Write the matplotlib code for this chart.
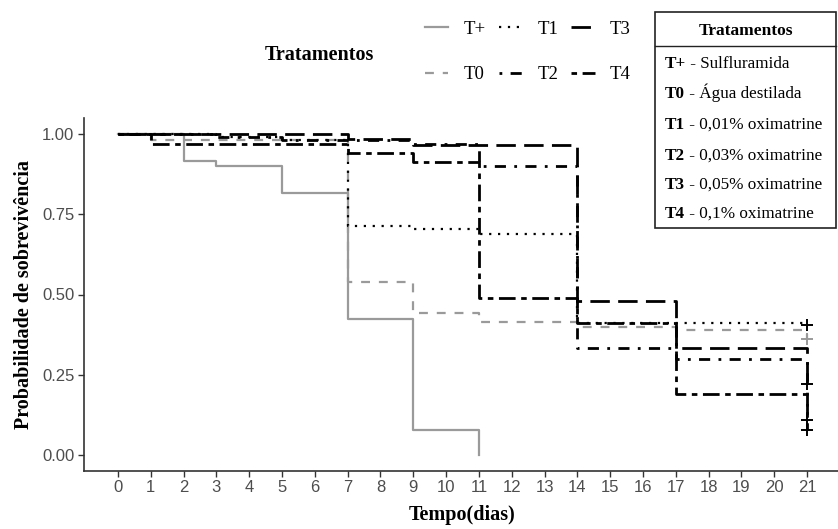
import numpy as np
import matplotlib
matplotlib.use("Agg")
import matplotlib.pyplot as plt
from matplotlib.patches import Rectangle
from matplotlib.lines import Line2D

# -------------------
# Data
# -------------------
groups = ["T+", "T0", "T1", "T2", "T3", "T4"]

t_pos = [0, 2, 3, 5, 7, 9, 11]
s_pos = [1.0, 0.915, 0.90, 0.817, 0.425, 0.078, 0.0]

t_t0 = [0, 1, 7, 9, 11, 14, 17, 21]
s_t0 = [1.0, 0.98, 0.54, 0.443, 0.415, 0.40, 0.39, 0.36]

t_t1 = [0, 3, 5, 7, 9, 11, 14, 21]
s_t1 = [1.0, 0.99, 0.98, 0.713, 0.705, 0.69, 0.41, 0.405]

t_t2 = [0, 3, 5, 9, 11, 14, 17, 21]
s_t2 = [1.0, 0.99, 0.98, 0.97, 0.90, 0.333, 0.30, 0.109]

t_t3 = [0, 7, 9, 14, 17, 21]
s_t3 = [1.0, 0.985, 0.966, 0.48, 0.333, 0.22]

t_t4 = [0, 1, 7, 9, 11, 14, 17, 21]
s_t4 = [1.0, 0.97, 0.94, 0.914, 0.49, 0.41, 0.19, 0.078]

# censored at end of trial (day 21)
cens_groups = ["T0", "T1", "T2", "T3", "T4"]

table_codes = ["T+", "T0", "T1", "T2", "T3", "T4"]
table_desc = ["Sulfluramida", "Água destilada", "0,01% oximatrine",
              "0,03% oximatrine", "0,05% oximatrine", "0,1% oximatrine"]

x_ticks = list(range(0, 22))
y_ticks = [0.0, 0.25, 0.50, 0.75, 1.0]

# -------------------
# Styles
# -------------------
GREY = "#9a9a9a"
styles = {
    "T+": dict(color=GREY, lw=1.6, dashes=()),
    "T0": dict(color=GREY, lw=1.6, dashes=(4, 4)),
    "T1": dict(color="black", lw=1.6, dashes=(1, 3)),
    "T2": dict(color="black", lw=2.0, dashes=(1, 3, 4, 3)),
    "T3": dict(color="black", lw=2.0, dashes=(7, 3)),
    "T4": dict(color="black", lw=2.0, dashes=(2, 2, 6, 2)),
}
data = {"T+": (t_pos, s_pos), "T0": (t_t0, s_t0), "T1": (t_t1, s_t1),
        "T2": (t_t2, s_t2), "T3": (t_t3, s_t3), "T4": (t_t4, s_t4)}

SERIF = ["Liberation Serif", "DejaVu Serif"]
SANS = ["Liberation Sans", "DejaVu Sans"]

fig = plt.figure(figsize=(8.38, 5.29), dpi=100)
ax = fig.add_axes([83.5 / 838, 58 / 529, 758 / 838, 353 / 529])

handles = []
for g in groups:
    t, s = data[g]
    st = styles[g]
    line, = ax.step(t, s, where="post", color=st["color"], lw=st["lw"],
                    label=g)
    if st["dashes"]:
        line.set_dashes(st["dashes"])
    handles.append(line)
    if g in cens_groups:
        ax.plot(t[-1], s[-1], marker="+", ms=9, mew=1.4, color=st["color"],
                linestyle="none")

ax.set_xlim(-1.05, 22.05)
ax.set_ylim(-0.05, 1.05)
ax.set_xticks(x_ticks)
ax.set_yticks(y_ticks)
ax.set_yticklabels([f"{v:.2f}" for v in y_ticks])
for lab in ax.get_xticklabels() + ax.get_yticklabels():
    lab.set_family(SANS)
    lab.set_fontsize(12)
    lab.set_color("#4d4d4d")
ax.tick_params(length=4.5, width=1.0, color="#333333", pad=2)
for side in ["top", "right"]:
    ax.spines[side].set_visible(False)
for side in ["left", "bottom"]:
    ax.spines[side].set_color("#333333")
    ax.spines[side].set_linewidth(1.2)

ax.set_xlabel("Tempo(dias)", family=SERIF, fontweight="bold", fontsize=14.5,
              labelpad=7)
ax.set_ylabel("Probabilidade de sobrevivência", family=SERIF,
              fontweight="bold", fontsize=14.5, labelpad=6)

# -------------------
# Legend on top
# -------------------
fig.text(265 / 838, 1 - 55 / 529, "Tratamentos", family=SERIF,
         fontweight="bold", fontsize=14.5, va="center", ha="left")
leg = fig.legend(handles=handles, labels=groups, ncol=3, frameon=False,
                 loc="center left", bbox_to_anchor=(408 / 838, 1 - 52 / 529),
                 prop={"family": SERIF, "size": 13.5}, handlelength=1.25,
                 columnspacing=0.7, labelspacing=1.5, handletextpad=0.8)

# -------------------
# Description table (top right)
# -------------------
bx0, by0, bx1, by1 = 655, 12, 836, 228
fig.patches.append(Rectangle((bx0 / 838, 1 - by1 / 529), (bx1 - bx0) / 838,
                             (by1 - by0) / 529, transform=fig.transFigure,
                             facecolor="white", edgecolor="#222222", lw=1.2,
                             zorder=5))
fig.lines.append(Line2D([bx0 / 838, bx1 / 838], [1 - 46 / 529, 1 - 46 / 529],
                        transform=fig.transFigure, color="#222222", lw=1.0,
                        zorder=6))
fig.text((bx0 + bx1) / 2 / 838, 1 - 31 / 529, "Tratamentos", family=SERIF,
         fontweight="bold", fontsize=12.5, ha="center", va="center", zorder=7)
row_base = [68, 98, 129, 160, 189, 218]
renderer = fig.canvas.get_renderer()
for code, desc, ry in zip(table_codes, table_desc, row_base):
    tb = fig.text(665 / 838, 1 - ry / 529, code, family=SERIF,
                  fontweight="bold", fontsize=12.3, ha="left",
                  va="baseline", zorder=7)
    x_end = tb.get_window_extent(renderer).x1
    fig.text(x_end / fig.bbox.width, 1 - ry / 529, " - " + desc,
             family=SERIF, fontsize=12.3, ha="left", va="baseline", zorder=7)

fig.savefig("out.png", dpi=100, facecolor="white")
